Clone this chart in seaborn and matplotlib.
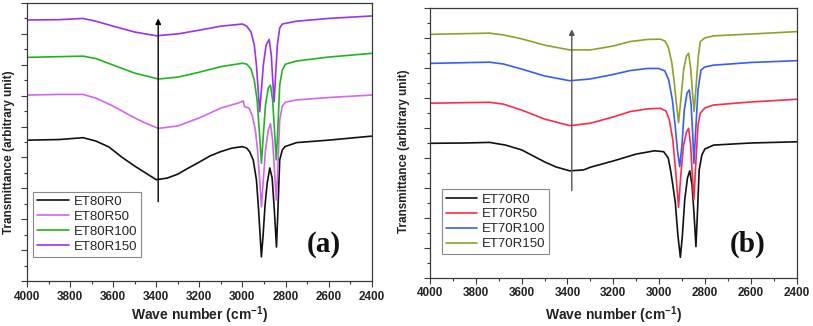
import numpy as np
import pandas as pd
import matplotlib
matplotlib.use('Agg')
import matplotlib.pyplot as plt
from matplotlib.ticker import MultipleLocator
import seaborn as sns

sns.set_theme(style='white')
plt.rcParams['font.family'] = ['Liberation Sans', 'DejaVu Sans']
plt.rcParams['mathtext.fontset'] = 'custom'
plt.rcParams['mathtext.rm'] = 'Liberation Sans'
plt.rcParams['mathtext.bf'] = 'Liberation Sans:bold'

# ---------------- Panel (a) data ----------------
a_names = ['ET80R0', 'ET80R50', 'ET80R100', 'ET80R150']
a_colors = ['#111111', '#d266f0', '#1fb51f', '#9933ee']

a_r0_wn = [4000, 3850, 3740, 3680, 3620, 3560, 3500, 3450, 3400, 3350, 3300, 3250, 3200, 3150, 3100, 3050, 3000,
           2980, 2966, 2950, 2935, 2925, 2918, 2912, 2904, 2895, 2885, 2873, 2862, 2852, 2842, 2836, 2827, 2815,
           2803, 2749, 2600, 2400]
a_r0_t = [4.56, 4.58, 4.64, 4.53, 4.34, 4.01, 3.72, 3.50, 3.28, 3.33, 3.46, 3.66, 3.85, 4.05, 4.19, 4.30, 4.35,
          4.30, 4.18, 3.92, 3.27, 2.30, 1.49, 0.78, 1.49, 2.46, 3.17, 3.66, 3.33, 2.30, 1.10, 2.14, 3.92, 4.24,
          4.35, 4.48, 4.56, 4.69]

a_r50_wn = [4000, 3850, 3740, 3680, 3600, 3500, 3450, 3390, 3300, 3200, 3100, 3020, 2996, 2990, 2970, 2955, 2940,
            2930, 2920, 2912, 2903, 2893, 2880, 2870, 2860, 2850, 2843, 2836, 2827, 2815, 2800, 2750, 2600, 2400]
a_r50_t = [6.02, 6.04, 6.04, 5.92, 5.66, 5.28, 5.11, 4.94, 5.02, 5.28, 5.60, 5.76, 5.83, 5.64, 5.60, 5.37, 4.89,
           4.24, 3.27, 2.40, 3.27, 4.24, 4.89, 5.10, 4.56, 3.43, 2.62, 3.59, 5.21, 5.66, 5.79, 5.86, 5.94, 6.02]

a_r100_wn = [4000, 3740, 3680, 3600, 3500, 3390, 3300, 3200, 3100, 3000, 2980, 2960, 2945, 2932, 2922, 2912, 2903,
             2893, 2880, 2870, 2860, 2850, 2843, 2836, 2827, 2815, 2800, 2750, 2600, 2400]
a_r100_t = [7.24, 7.28, 7.20, 6.99, 6.73, 6.54, 6.60, 6.76, 6.94, 7.05, 7.02, 6.86, 6.50, 5.86, 4.89, 3.81, 4.72,
            5.70, 6.25, 6.34, 5.86, 4.72, 3.92, 4.89, 6.34, 6.83, 7.02, 7.12, 7.25, 7.37]

a_r150_wn = [4000, 3850, 3740, 3680, 3600, 3500, 3400, 3300, 3200, 3100, 3000, 2980, 2960, 2945, 2935, 2927, 2920,
             2912, 2903, 2890, 2876, 2866, 2858, 2853, 2846, 2838, 2827, 2815, 2750, 2600, 2400]
a_r150_t = [8.45, 8.46, 8.50, 8.41, 8.25, 8.06, 7.94, 8.00, 8.12, 8.25, 8.32, 8.25, 8.06, 7.64, 6.99, 6.18, 5.48,
            6.18, 6.99, 7.64, 7.82, 7.31, 6.34, 5.80, 6.67, 7.64, 8.19, 8.32, 8.41, 8.50, 8.58]

# ---------------- Panel (b) data ----------------
b_names = ['ET70R0', 'ET70R50', 'ET70R100', 'ET70R150']
b_colors = ['#111111', '#ff2a4a', '#3a5cf5', '#8aa328']

b_r0_wn = [4000, 3850, 3740, 3670, 3600, 3500, 3450, 3390, 3330, 3300, 3200, 3100, 3020, 2980, 2960, 2950, 2940,
           2929, 2918, 2907, 2898, 2888, 2876, 2866, 2856, 2847, 2839, 2832, 2825, 2813, 2800, 2762, 2600, 2400]
b_r0_t = [4.49, 4.50, 4.52, 4.43, 4.27, 3.87, 3.70, 3.57, 3.60, 3.69, 3.90, 4.13, 4.24, 4.21, 4.00, 3.60, 3.10,
          2.50, 1.43, 0.68, 1.43, 2.60, 3.33, 3.57, 3.10, 2.09, 1.04, 2.25, 3.60, 4.10, 4.30, 4.43, 4.50, 4.54]

b_r50_wn = [4000, 3740, 3680, 3600, 3500, 3390, 3300, 3200, 3126, 3050, 2995, 2970, 2955, 2940, 2928, 2915, 2905,
            2893, 2880, 2871, 2862, 2855, 2848, 2840, 2830, 2820, 2800, 2762, 2600, 2400]
b_r50_t = [5.83, 5.86, 5.80, 5.60, 5.30, 5.08, 5.16, 5.37, 5.55, 5.64, 5.66, 5.57, 5.27, 4.60, 3.60, 2.35, 3.43,
           4.43, 4.87, 4.99, 4.43, 3.43, 2.60, 3.77, 5.10, 5.50, 5.67, 5.77, 5.87, 5.96]

b_r100_wn = [4000, 3740, 3680, 3600, 3500, 3390, 3300, 3200, 3126, 3050, 3002, 2975, 2958, 2942, 2930, 2920, 2910,
             2900, 2890, 2878, 2868, 2860, 2853, 2848, 2840, 2830, 2817, 2800, 2762, 2600, 2400]
b_r100_t = [7.16, 7.20, 7.14, 6.97, 6.74, 6.58, 6.64, 6.79, 6.92, 6.99, 6.99, 6.91, 6.61, 5.94, 5.10, 4.27, 3.71,
            4.43, 5.60, 6.17, 6.27, 5.77, 4.77, 3.82, 4.93, 6.27, 6.94, 7.04, 7.10, 7.19, 7.25]

b_r150_wn = [4000, 3740, 3680, 3600, 3500, 3390, 3300, 3200, 3126, 3050, 2995, 2975, 2960, 2945, 2935, 2925, 2915,
             2905, 2893, 2880, 2871, 2862, 2855, 2847, 2838, 2828, 2820, 2800, 2762, 2600, 2400]
b_r150_t = [8.13, 8.17, 8.11, 7.98, 7.77, 7.61, 7.61, 7.74, 7.89, 7.96, 7.97, 7.91, 7.71, 7.21, 6.61, 5.87, 5.18,
            5.94, 6.94, 7.41, 7.50, 7.01, 6.27, 5.55, 6.44, 7.44, 7.89, 8.01, 8.08, 8.14, 8.22]

x_ticks_major = 200
x_ticks_minor = 100
panel_tags = ['(a)', '(b)']
arrow_a = (3391, 2.57, 8.50)
arrow_b = (3381, 2.91, 8.30)


def long_df(names, wns, ts):
    frames = []
    for n, w, t in zip(names, wns, ts):
        frames.append(pd.DataFrame({'wn': w, 't': t, 'sample': n}))
    return pd.concat(frames, ignore_index=True)


df_a = long_df(a_names, [a_r0_wn, a_r50_wn, a_r100_wn, a_r150_wn], [a_r0_t, a_r50_t, a_r100_t, a_r150_t])
df_b = long_df(b_names, [b_r0_wn, b_r50_wn, b_r100_wn, b_r150_wn], [b_r0_t, b_r50_t, b_r100_t, b_r150_t])

fig = plt.figure(figsize=(8.13, 3.26), dpi=100)
W, H = 813, 326


def add_ax(l, t, r, b):
    return fig.add_axes([l / W, 1 - b / H, (r - l) / W, (b - t) / H])


axA = add_ax(27, 3, 371.7, 281)
axB = add_ax(430, 8.3, 796.5, 277.7)

spine_col = '#3a3a3a'
configs = [
    (axA, df_a, a_names, a_colors, arrow_a, 'black', (0.018, 0.321), (0.862, 0.133), (-0.035, 0.465), -0.085),
    (axB, df_b, b_names, b_colors, arrow_b, '#555555', (0.032, 0.328), (0.868, 0.125), (-0.055, 0.47), -0.100),
]

for i, (ax, df, names, cols, arr, acol, legpos, tagpos, ylpos, xly) in enumerate(configs):
    sns.lineplot(data=df, x='wn', y='t', hue='sample', hue_order=names,
                 palette=dict(zip(names, cols)), estimator=None, sort=True,
                 linewidth=1.2, ax=ax)
    ax.set_xlim(4000, 2400)
    ax.set_ylim(0, 9)
    ax.xaxis.set_major_locator(MultipleLocator(x_ticks_major))
    ax.xaxis.set_minor_locator(MultipleLocator(x_ticks_minor))
    ax.yaxis.set_major_locator(MultipleLocator(1))
    ax.yaxis.set_minor_locator(MultipleLocator(0.5))
    ax.tick_params(axis='both', which='both', direction='out', top=False, right=False,
                   bottom=True, left=True, color=spine_col, width=0.8)
    ax.tick_params(which='major', length=4)
    ax.tick_params(which='minor', length=2.5)
    ax.tick_params(axis='y', labelleft=False)
    ax.tick_params(axis='x', labelsize=8.5, pad=3, labelcolor='#222222')
    for lab in ax.get_xticklabels():
        lab.set_fontweight('bold')
    for s in ax.spines.values():
        s.set_color(spine_col)
        s.set_linewidth(0.9)
    ax.set_xlabel(r'Wave number (cm$^{\mathbf{-1}}$)', fontsize=10, fontweight='bold', color='#222222')
    ax.set_ylabel('Transmittance (arbitrary unit)', fontsize=8.5, fontweight='bold', color='#222222')
    ax.xaxis.set_label_coords(0.5, xly)
    ax.yaxis.set_label_coords(*ylpos)
    handles, labels = ax.get_legend_handles_labels()
    leg = ax.legend(handles, labels, loc='upper left', bbox_to_anchor=legpos, borderaxespad=0,
                    fontsize=9.5, frameon=True, fancybox=False, framealpha=1, edgecolor='#888888',
                    handlelength=2.4, handletextpad=0.35, labelspacing=0.2, borderpad=0.3)
    leg.get_frame().set_linewidth(0.8)
    ax.annotate('', xy=(arr[0], arr[2]), xytext=(arr[0], arr[1]),
                arrowprops=dict(arrowstyle='-|>', color=acol, lw=1.0, mutation_scale=8,
                                shrinkA=0, shrinkB=0))
    ax.text(tagpos[0], tagpos[1], panel_tags[i], transform=ax.transAxes, ha='center', va='center',
            fontsize=21, fontweight='bold', family=['Liberation Serif', 'DejaVu Serif'], color='#111111')

fig.savefig('out.png', dpi=100)
